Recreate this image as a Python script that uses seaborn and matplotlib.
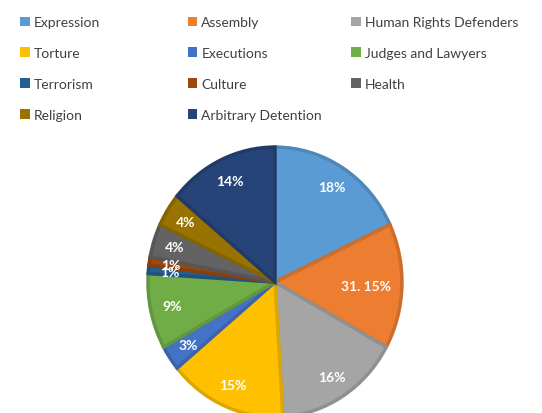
import seaborn as sns
import matplotlib.pyplot as plt
import matplotlib.colors as mcolors
from matplotlib.patches import Patch

# data
categories = ["Expression", "Assembly", "Human Rights Defenders", "Torture",
              "Executions", "Judges and Lawyers", "Terrorism", "Culture",
              "Health", "Religion", "Arbitrary Detention"]
values = [18, 15, 16, 15, 3, 9, 1, 1, 4, 4, 14]
value_labels = ["18%", "31. 15%", "16%", "15%", "3%", "9%", "1%", "1%", "4%", "4%", "14%"]
colors = ["#5B9BD5", "#ED7D31", "#A5A5A5", "#FFC000", "#4472C4", "#70AD47",
          "#255E91", "#9E480E", "#636363", "#997300", "#264478"]

sns.set_theme(style="white")
plt.rcParams['font.family'] = ['Lato', 'DejaVu Sans']

palette = sns.color_palette(colors)

fig = plt.figure(figsize=(5.42, 4.14), dpi=100)
ax = fig.add_axes([0.273, -0.0097, 0.4686, 0.652])

wedges, texts, autotexts = ax.pie(values, colors=palette, startangle=90,
                                  counterclock=False, autopct="%d%%",
                                  pctdistance=0.83, radius=1.0)
for w, c in zip(wedges, palette):
    dark = [x * 0.87 for x in mcolors.to_rgb(c)]
    w.set_edgecolor(dark)
    w.set_linewidth(2.5)
for t, lab in zip(autotexts, value_labels):
    t.set_text(lab)
    t.set_color("white")
    t.set_fontsize(10)
    t.set_fontweight("bold")
autotexts[1].set_position((0.72, -0.03))

ax.set_aspect("auto")
ax.set_xlim(-1, 1)
ax.set_ylim(-1, 1)
ax.axis("off")

# legend, three columns filled row by row
col_x = [0.037, 0.346, 0.648]
for col in range(3):
    idx = list(range(col, len(categories), 3))
    handles = [Patch(facecolor=palette[i], edgecolor="none") for i in idx]
    fig.legend(handles, [categories[i] for i in idx],
               loc="upper left", bbox_to_anchor=(col_x[col], 0.958),
               frameon=False, fontsize=10, handlelength=0.7, handleheight=0.7,
               handletextpad=0.3, labelspacing=1.35, borderaxespad=0,
               borderpad=0, labelcolor="#404040")

fig.savefig("out.png", dpi=100)
